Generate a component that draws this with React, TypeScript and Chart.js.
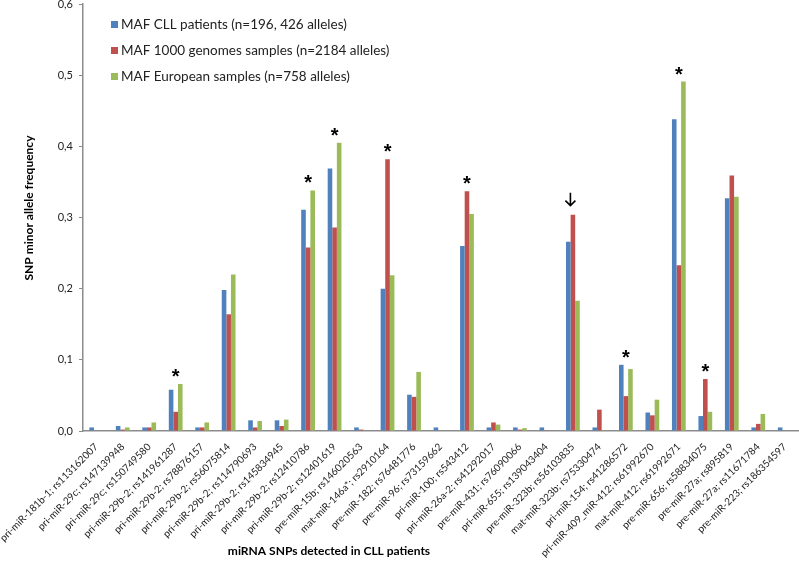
import React, { useEffect, useRef } from "react";
import { Chart, registerables } from "chart.js";

Chart.register(...registerables);

const labels = [
  "pri-miR-181b-1; rs113162007",
  "pri-miR-29c; rs147139948",
  "pri-miR-29c; rs150749580",
  "pri-miR-29b-2; rs141961287",
  "pri-miR-29b-2; rs78876157",
  "pri-miR-29b-2; rs56075814",
  "pri-miR-29b-2; rs114790693",
  "pri-miR-29b-2; rs145834945",
  "pri-miR-29b-2; rs12410786",
  "pri-miR-29b-2; rs12401619",
  "pre-miR-15b; rs146020563",
  "mat-miR-146a*; rs2910164",
  "pre-miR-182; rs76481776",
  "pre-miR-96; rs73159662",
  "pri-miR-100; rs543412",
  "pri-miR-26a-2; rs41292017",
  "pre-miR-431; rs76090066",
  "pri-miR-655; rs139043404",
  "pre-miR-323b; rs56103835",
  "mat-miR-323b; rs75330474",
  "pri-miR-154; rs41286572",
  "pri-miR-409_miR-412; rs61992670",
  "mat-miR-412; rs61992671",
  "pre-miR-656; rs58834075",
  "pre-miR-27a; rs895819",
  "pre-miR-27a; rs11671784",
  "pre-miR-223; rs186354597",
];

const cllValues = [0.005, 0.007, 0.005, 0.058, 0.005, 0.198, 0.015, 0.015, 0.311, 0.369, 0.005, 0.2, 0.051, 0.005, 0.26, 0.005, 0.005, 0.005, 0.266, 0.005, 0.093, 0.026, 0.438, 0.021, 0.327, 0.005, 0.005];
const genomesValues = [0, 0.002, 0.005, 0.027, 0.005, 0.164, 0.005, 0.007, 0.258, 0.286, 0.002, 0.382, 0.048, 0, 0.337, 0.012, 0.002, 0.001, 0.304, 0.03, 0.049, 0.022, 0.233, 0.073, 0.359, 0.01, 0];
const europeanValues = [0, 0.005, 0.012, 0.066, 0.012, 0.22, 0.014, 0.016, 0.338, 0.405, 0, 0.219, 0.083, 0, 0.305, 0.009, 0.004, 0, 0.183, 0.001, 0.087, 0.044, 0.491, 0.027, 0.329, 0.024, 0];

const seriesNames = [
  "MAF CLL patients (n=196, 426 alleles)",
  "MAF 1000 genomes samples (n=2184 alleles)",
  "MAF European samples (n=758 alleles)",
];
const seriesColors = ["#4F81BD", "#C0504D", "#9BBB59"];

const yTicks = [0, 0.1, 0.2, 0.3, 0.4, 0.5, 0.6];
const starIndices = [3, 8, 9, 11, 14, 20, 22, 23];
const arrowIndices = [18];

const xTitle = "miRNA SNPs detected in CLL patients";
const yTitle = "SNP minor allele frequency";

const FONT = "Lato, 'Open Sans', sans-serif";

const overlayPlugin = {
  id: "overlay",
  afterDraw(chart: any) {
    const ctx = chart.ctx;
    const xs = chart.scales.x;
    const ys = chart.scales.y;
    const ds = chart.data.datasets;
    ctx.save();
    // legend
    ds.forEach((d: any, i: number) => {
      const cy = [25, 51, 77][i];
      ctx.fillStyle = d.backgroundColor;
      ctx.fillRect(111, cy - 4, 7, 7);
      ctx.fillStyle = "#222";
      ctx.font = "13.5px " + FONT;
      ctx.textBaseline = "middle";
      ctx.textAlign = "left";
      ctx.fillText(d.label, 121, cy);
    });
    const groupMax = (i: number) => Math.max(...ds.map((d: any) => d.data[i]));
    // stars
    ctx.fillStyle = "#000";
    ctx.font = "bold 20px 'Liberation Sans', sans-serif";
    ctx.textAlign = "center";
    ctx.textBaseline = "alphabetic";
    starIndices.forEach((i) => {
      const x = xs.getPixelForValue(i);
      const y = ys.getPixelForValue(groupMax(i));
      ctx.fillText("*", x, y - 1);
    });
    // arrows
    ctx.strokeStyle = "#000";
    ctx.lineWidth = 1.6;
    arrowIndices.forEach((i) => {
      const x = xs.getPixelForValue(i) - 2.5;
      const top = ys.getPixelForValue(groupMax(i));
      ctx.beginPath();
      ctx.moveTo(x, top - 22);
      ctx.lineTo(x, top - 9);
      ctx.moveTo(x - 5, top - 14);
      ctx.lineTo(x, top - 9);
      ctx.lineTo(x + 5, top - 14);
      ctx.stroke();
    });
    // axis titles
    ctx.fillStyle = "#000";
    ctx.font = "bold 12px " + FONT;
    ctx.textAlign = "center";
    ctx.textBaseline = "middle";
    ctx.fillText(xTitle, 329, 551);
    ctx.translate(29, 208);
    ctx.rotate(-Math.PI / 2);
    ctx.fillText(yTitle, 0, 0);
    ctx.restore();
  },
};

export default function App() {
  const ref = useRef<HTMLCanvasElement | null>(null);
  useEffect(() => {
    document.body.style.margin = "0";
    const canvas = ref.current!;
    const chart = new Chart(canvas, {
      type: "bar",
      data: {
        labels,
        datasets: [cllValues, genomesValues, europeanValues].map((vals, i) => ({
          label: seriesNames[i],
          data: vals,
          backgroundColor: seriesColors[i],
          borderWidth: 0,
          barPercentage: 1,
          categoryPercentage: 0.52,
        })),
      },
      options: {
        animation: false,
        responsive: false,
        maintainAspectRatio: false,
        layout: { padding: { top: 4, right: 1, left: 0, bottom: 0 } },
        plugins: { legend: { display: false }, tooltip: { enabled: false } },
        scales: {
          x: {
            grid: { display: false },
            border: { display: true, color: "#8c8c8c", width: 1.5 },
            ticks: {
              autoSkip: false,
              minRotation: 45,
              maxRotation: 45,
              color: "#222",
              font: { size: 10, family: FONT },
              padding: 2,
            },
            afterFit(scale: any) {
              scale.height = 132;
              scale.paddingLeft = 0;
              scale.paddingRight = 0;
            },
          },
          y: {
            min: 0,
            max: 0.6,
            grid: { display: true, drawOnChartArea: false, drawTicks: true, tickLength: 4, color: "#8c8c8c" },
            border: { display: true, color: "#8c8c8c", width: 1.5 },
            afterBuildTicks(scale: any) {
              scale.ticks = yTicks.map((v) => ({ value: v }));
            },
            ticks: {
              color: "#222",
              font: { size: 11, family: FONT },
              padding: 6,
              callback: (v: any) => Number(v).toFixed(1).replace(".", ","),
            },
            afterFit(scale: any) {
              scale.width = 83;
              scale.paddingTop = 0;
              scale.paddingBottom = 0;
            },
          },
        },
      },
      plugins: [overlayPlugin],
    });
    return () => chart.destroy();
  }, []);
  return (
    <div style={{ position: "absolute", left: 0, top: 0, width: 799, height: 563, background: "#fff" }}>
      <canvas ref={ref} width={799} height={563} style={{ width: 799, height: 563 }} />
    </div>
  );
}
